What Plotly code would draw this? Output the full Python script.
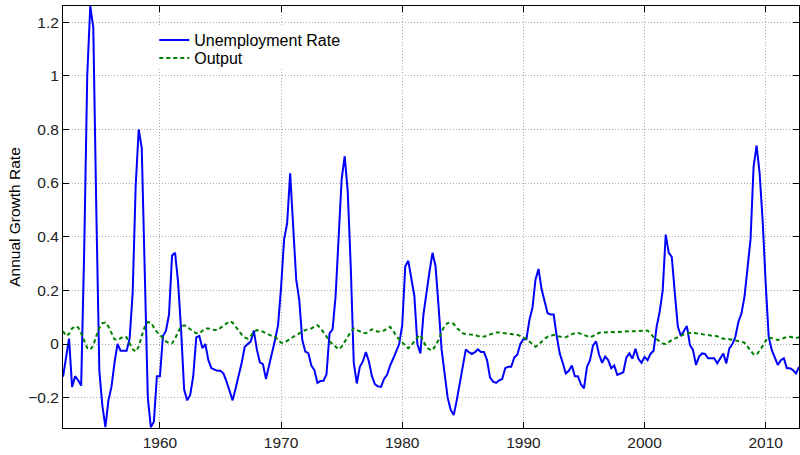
import plotly.graph_objects as go

# Quarterly time axis: 1952Q1 .. 2012Q4
start_year = 1952
n_quarters = 244
years = [start_year + i / 4 for i in range(n_quarters)]

unemployment = [
    -0.122, -0.05, 0.02, -0.16, -0.12, -0.135, -0.155, 0.35, 1.0, 1.26,
    1.18, 0.5, -0.1, -0.23, -0.31, -0.21, -0.16, -0.07, 0.0, -0.025,
    -0.025, -0.025, 0.02, 0.19, 0.59, 0.80, 0.73, 0.25, -0.2, -0.31,
    -0.29, -0.12, -0.12, 0.03, 0.05, 0.11, 0.33, 0.34, 0.23, 0.05,
    -0.17, -0.21, -0.19, -0.12, 0.025, 0.03, -0.015, 0.0, -0.06, -0.09,
    -0.095, -0.10, -0.10, -0.11, -0.14, -0.18, -0.21, -0.165, -0.12, -0.07,
    -0.01, 0.0, 0.01, 0.05, -0.02, -0.068, -0.075, -0.13, -0.085, -0.035,
    0.015, 0.07, 0.21, 0.39, 0.45, 0.636, 0.43, 0.24, 0.165, 0.015,
    -0.028, -0.034, -0.08, -0.097, -0.145, -0.138, -0.137, -0.113, 0.04, 0.055,
    0.178, 0.40, 0.615, 0.70, 0.57, 0.29, -0.07, -0.147, -0.085, -0.065,
    -0.03, -0.065, -0.12, -0.15, -0.158, -0.16, -0.13, -0.115, -0.08, -0.055,
    -0.03, 0.0, 0.07, 0.29, 0.31, 0.24, 0.18, 0.0, -0.035, 0.11,
    0.2, 0.27, 0.34, 0.29, 0.14, -0.02, -0.11, -0.2, -0.245, -0.265,
    -0.21, -0.145, -0.085, -0.02, -0.03, -0.037, -0.03, -0.02, -0.03, -0.03,
    -0.06, -0.125, -0.14, -0.145, -0.135, -0.13, -0.09, -0.085, -0.085, -0.05,
    -0.04, 0.0, 0.018, 0.018, 0.09, 0.135, 0.24, 0.28, 0.205, 0.155,
    0.115, 0.11, 0.11, 0.03, -0.035, -0.07, -0.11, -0.1, -0.08, -0.12,
    -0.12, -0.15, -0.165, -0.085, -0.06, -0.005, 0.01, -0.04, -0.07, -0.047,
    -0.06, -0.09, -0.08, -0.115, -0.11, -0.105, -0.05, -0.035, -0.055, -0.018,
    -0.055, -0.07, -0.048, -0.06, -0.036, -0.025, 0.065, 0.12, 0.2, 0.408,
    0.34, 0.325, 0.19, 0.065, 0.03, 0.05, 0.067, -0.004, -0.022, -0.078,
    -0.047, -0.035, -0.037, -0.053, -0.053, -0.053, -0.072, -0.053, -0.035, -0.072,
    -0.016, 0.0, 0.027, 0.083, 0.114, 0.176, 0.276, 0.39, 0.66, 0.74,
    0.636, 0.46, 0.226, 0.027, -0.022, -0.047, -0.078, -0.06, -0.053, -0.09,
    -0.09, -0.097, -0.11, -0.085,
]

output = [
    0.048, 0.03, 0.038, 0.058, 0.066, 0.062, 0.04, 0.01, -0.015, -0.021,
    -0.005, 0.03, 0.06, 0.078, 0.08, 0.065, 0.04, 0.018, 0.015, 0.022,
    0.028, 0.025, 0.0, -0.02, -0.028, -0.01, 0.03, 0.065, 0.082, 0.08,
    0.062, 0.045, 0.035, 0.02, 0.01, 0.003, 0.003, 0.02, 0.045, 0.065,
    0.07, 0.065, 0.055, 0.046, 0.04, 0.04, 0.048, 0.058, 0.058, 0.055,
    0.052, 0.052, 0.06, 0.07, 0.078, 0.085, 0.08, 0.065, 0.05, 0.035,
    0.025, 0.02, 0.03, 0.045, 0.052, 0.05, 0.046, 0.04, 0.034, 0.03,
    0.027, 0.015, 0.005, 0.005, 0.01, 0.018, 0.027, 0.034, 0.04, 0.046,
    0.052, 0.055, 0.058, 0.065, 0.07, 0.06, 0.046, 0.028, 0.01, 0.0,
    -0.01, -0.02, -0.01, 0.01, 0.027, 0.045, 0.058, 0.052, 0.046, 0.042,
    0.04, 0.048, 0.055, 0.05, 0.046, 0.048, 0.05, 0.058, 0.064, 0.05,
    0.03, 0.018, 0.006, -0.006, -0.016, -0.005, 0.01, 0.025, 0.034, 0.012,
    -0.012, -0.02, -0.024, -0.005, 0.015, 0.045, 0.068, 0.078, 0.08, 0.075,
    0.06, 0.05, 0.04, 0.037, 0.036, 0.035, 0.034, 0.03, 0.027, 0.028,
    0.03, 0.036, 0.04, 0.043, 0.043, 0.042, 0.04, 0.038, 0.037, 0.035,
    0.034, 0.03, 0.025, 0.018, 0.009, 0.0, -0.01, -0.003, 0.009, 0.02,
    0.027, 0.032, 0.034, 0.03, 0.027, 0.026, 0.025, 0.032, 0.037, 0.04,
    0.042, 0.038, 0.034, 0.027, 0.025, 0.03, 0.036, 0.042, 0.043, 0.044,
    0.045, 0.045, 0.044, 0.045, 0.046, 0.046, 0.047, 0.048, 0.048, 0.048,
    0.048, 0.048, 0.048, 0.05, 0.04, 0.025, 0.018, 0.01, 0.002, 0.0,
    0.008, 0.015, 0.02, 0.026, 0.03, 0.036, 0.04, 0.042, 0.043, 0.04,
    0.038, 0.036, 0.034, 0.033, 0.032, 0.03, 0.029, 0.025, 0.02, 0.02,
    0.018, 0.016, 0.015, 0.012, 0.009, 0.005, -0.01, -0.025, -0.038, -0.04,
    -0.025, -0.008, 0.012, 0.025, 0.022, 0.018, 0.015, 0.018, 0.022, 0.027,
    0.027, 0.024, 0.022, 0.025,
]

x_tick_vals = [1960, 1970, 1980, 1990, 2000, 2010]
x_tick_text = ["1960", "1970", "1980", "1990", "2000", "2010"]
y_tick_vals = [-0.2, 0, 0.2, 0.4, 0.6, 0.8, 1.0, 1.2]
y_tick_text = ["\u22120.2", "0", "0.2", "0.4", "0.6", "0.8", "1", "1.2"]

FONT = "Liberation Sans, Arial, Helvetica, sans-serif"

fig = go.Figure()
fig.add_trace(go.Scatter(
    x=years, y=unemployment, mode="lines", name="Unemployment Rate",
    line=dict(color="#0000ff", width=2), legend="legend",
))
fig.add_trace(go.Scatter(
    x=years, y=output, mode="lines", name="Output",
    line=dict(color="#008000", width=2, dash="4px,3px"), legend="legend2",
))

axis_common = dict(
    showline=True, linecolor="black", linewidth=1, mirror="allticks",
    ticks="inside", ticklen=6, tickcolor="black", tickwidth=1,
    showgrid=True, gridcolor="#a8a8a8", griddash="1px,2px", gridwidth=1,
    zeroline=False, tickfont=dict(family=FONT, size=15.5, color="#222222"),
)

legend_common = dict(
    xanchor="left", yanchor="middle", bgcolor="rgba(0,0,0,0)", borderwidth=0,
    font=dict(family=FONT, size=16, color="black"), itemwidth=30,
)

fig.update_layout(
    width=800, height=455,
    margin=dict(l=63, r=1, t=6, b=27),
    paper_bgcolor="white", plot_bgcolor="white",
    font=dict(family=FONT, color="black"),
    showlegend=True,
    legend=dict(x=0.124, y=0.9194, **legend_common),
    legend2=dict(x=0.124, y=0.8768, **legend_common),
    # white box behind the legend entries (as in the reference)
    shapes=[dict(type="rect", xref="paper", yref="paper",
                 x0=0.13, x1=0.385, y0=0.85, y1=0.955,
                 fillcolor="white", line=dict(width=0), layer="above")],
    xaxis=dict(range=[1952, 2012.75], tickvals=x_tick_vals, ticktext=x_tick_text,
               **axis_common),
    yaxis=dict(range=[-0.313, 1.26], tickvals=y_tick_vals, ticktext=y_tick_text,
               title=dict(text="Annual Growth Rate",
                          font=dict(family=FONT, size=15.5, color="black"),
                          standoff=3),
               **axis_common),
)

fig.write_html(
    "out.html",
    config={"displayModeBar": False},
    post_script="document.body.style.margin='0';document.body.style.overflow='hidden';",
)
